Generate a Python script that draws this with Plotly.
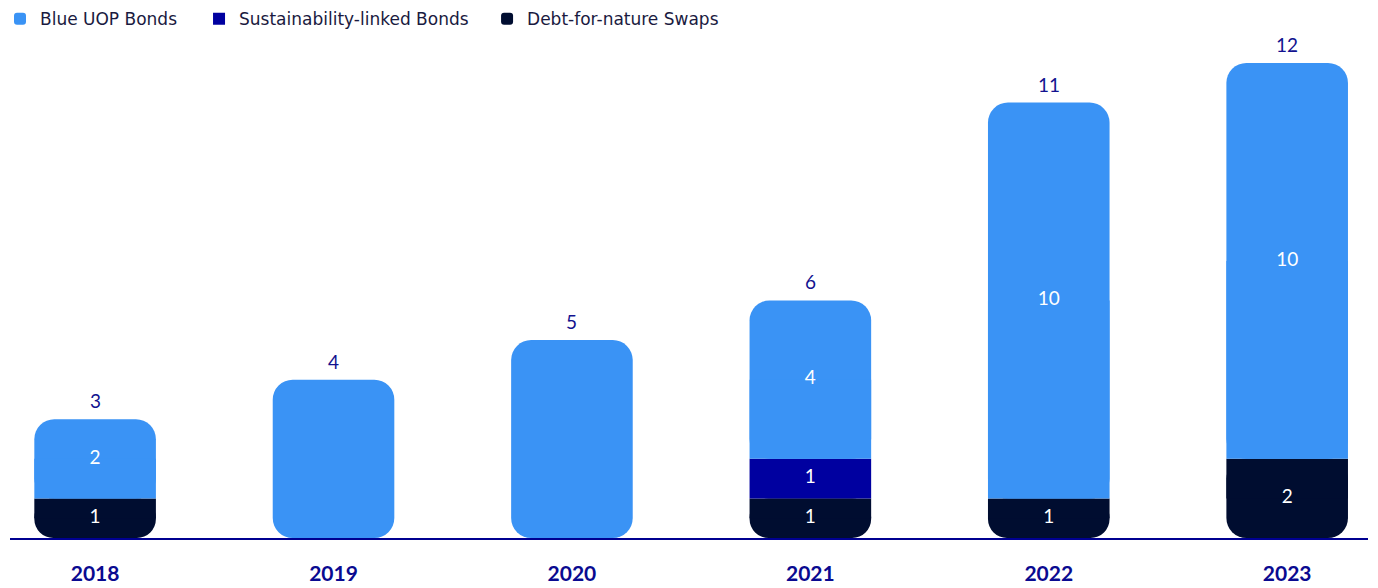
import plotly.graph_objects as go

years = ["2018", "2019", "2020", "2021", "2022", "2023"]
debt_for_nature = [1, 0, 0, 1, 1, 2]
sustainability_linked = [0, 0, 0, 1, 0, 0]
blue_uop = [2, 4, 5, 4, 10, 10]

# name, values, colour, legend id, legend x position (plot-area fraction)
series = [
    ("Debt-for-nature Swaps", debt_for_nature, "#000D30", "legend3", 0.3513),
    ("Sustainability-linked Bonds", sustainability_linked, "#0000A0", "legend2", 0.1392),
    ("Blue UOP Bonds", blue_uop, "#3A93F5", "legend", -0.0081),
]

totals = [sum(v) for v in zip(debt_for_nature, sustainability_linked, blue_uop)]

FONT = "Lato"
LEGEND_FONT = "DejaVu Sans"
RADIUS = 20
BAR_W = 0.51

# Floating bars (with a base) get all four corners rounded; flat pieces square
# off the corners that sit against a neighbouring segment.
groups = {}
labels = {"x": [], "y": [], "text": []}


def add(name, kind, yr, b, h):
    g = groups.setdefault((name, kind), {"x": [], "base": [], "y": []})
    g["x"].append(yr)
    g["base"].append(b)
    g["y"].append(h)


for i, yr in enumerate(years):
    nonzero = [(s[0], s[1][i]) for s in series if s[1][i] > 0]
    base = 0
    n = len(nonzero)
    for k, (name, v) in enumerate(nonzero):
        if n == 1:
            add(name, "round", yr, base, v)
        elif k == 0:
            add(name, "round", yr, base, v)
            add(name, "flat", yr, base + v / 2, v / 2)
        elif k == n - 1:
            add(name, "round", yr, base, v)
            add(name, "flat", yr, base, v / 2)
        else:
            add(name, "flat", yr, base, v)
        if v != totals[i]:
            labels["x"].append(yr)
            labels["y"].append(base + v / 2)
            labels["text"].append(str(v))
        base += v

fig = go.Figure()
legend_layouts = {}
for name, vals, color, leg, lx in series:
    first = True
    for kind in ["round", "flat"]:
        g = groups.get((name, kind))
        if not g:
            continue
        fig.add_trace(go.Bar(
            x=g["x"], y=g["y"], base=g["base"], width=BAR_W,
            name=name, legendgroup=name, legend=leg, showlegend=first,
            marker=dict(color=color, line=dict(width=0),
                        cornerradius=RADIUS if kind == "round" else 0),
            hoverinfo="skip",
        ))
        first = False
    legend_layouts[leg] = dict(
        orientation="h", x=lx, y=0.998, xanchor="left", yanchor="top",
        yref="container", itemwidth=30, bgcolor="rgba(0,0,0,0)",
        font=dict(family=LEGEND_FONT, size=17, color="#1A1A40"),
    )

fig.add_trace(go.Scatter(
    x=labels["x"], y=labels["y"], text=labels["text"], mode="text",
    textfont=dict(family=FONT, size=19, color="white"),
    showlegend=False, hoverinfo="skip",
))

for i, t in enumerate(totals):
    fig.add_annotation(x=i, y=t, text=str(t), showarrow=False,
                       xref="x", yref="y",
                       yanchor="bottom", yshift=5,
                       font=dict(family=FONT, size=19, color="#12128F"))

fig.update_layout(
    width=1378, height=588,
    margin=dict(l=10, r=10, t=40, b=50),
    barmode="overlay",
    plot_bgcolor="white", paper_bgcolor="white",
    font=dict(family=FONT, color="#1A1A40"),
    xaxis=dict(type="category", categoryorder="array", categoryarray=years,
               range=[-0.357, 5.339], showline=True, automargin=False,
               linecolor="#000090", linewidth=1.5, showgrid=False,
               tickfont=dict(family=FONT, size=21, color="#0A0A90", weight="bold"),
               ticklabelstandoff=16, ticks=""),
    yaxis=dict(visible=False, range=[0, 12.58], showgrid=False, zeroline=False),
    **legend_layouts,
)

fig.write_html("out.html")
